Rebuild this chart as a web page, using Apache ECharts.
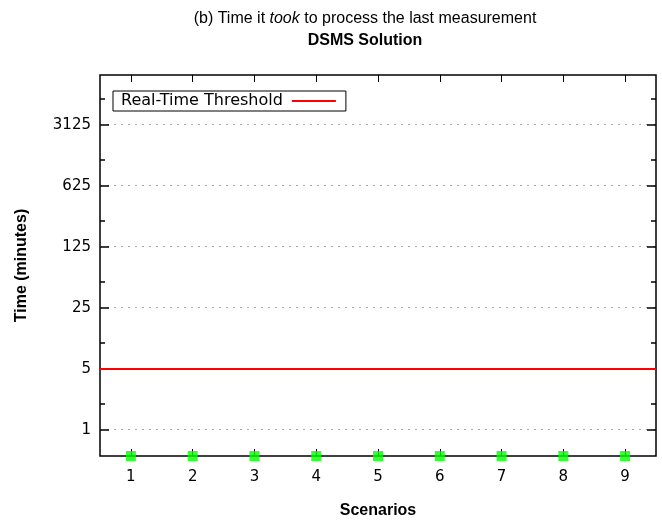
<!DOCTYPE html>
<html>
<head>
<meta charset="utf-8">
<script src="https://cdn.jsdelivr.net/npm/echarts@6/dist/echarts.min.js"></script>
<style>html,body{margin:0;padding:0;background:#fff}#c{width:662px;height:524px}</style>
</head>
<body>
<div id="c"></div>
<script>
const scenarios = ['1','2','3','4','5','6','7','8','9'];
const dsmsTime = [0.5,0.5,0.5,0.5,0.5,0.5,0.5,0.5,0.5];
const thresholdValue = 5;
const yMajorTicks = [1,5,25,125,625,3125];
const yMinorTicks = [2,10,50,250,1250,6250];
const yMin = 0.5, yMax = 11600;

const chart = echarts.init(document.getElementById('c'), null, {renderer:'canvas'});
const labelFont = {fontFamily:'DejaVu Sans', fontSize:15, color:'#000'};
function yAx(pos, ticks, len, showLabel, split){
  return {
    type:'log', logBase:5, min:yMin, max:yMax, position:pos,
    axisLine:{show:false},
    axisTick:{show:true, inside:true, length:len, customValues:ticks, lineStyle:{color:'#000', width:1.5}},
    axisLabel:Object.assign({show:showLabel, customValues:ticks, margin:9, formatter:function(v){return String(v);}}, labelFont),
    splitLine:{show:split, lineStyle:{color:'#aaa', type:[2,5], width:1}},
    minorTick:{show:false}
  };
}
const option = {
  animation:false,
  backgroundColor:'#fff',
  title:{
    text:'{a|(b) Time it }{i|took}{a| to process the last measurement}\n{b|DSMS Solution}',
    left:360, top:3, textAlign:'center',
    textStyle:{
      fontWeight:'normal',
      rich:{
        a:{fontFamily:'Liberation Sans', fontSize:16, fontWeight:'normal', color:'#000', lineHeight:22},
        i:{fontFamily:'Liberation Sans', fontSize:16, fontStyle:'italic', fontWeight:'normal', color:'#000', lineHeight:22},
        b:{fontFamily:'Liberation Sans', fontSize:16, fontWeight:'bold', color:'#000', lineHeight:22}
      }
    }
  },
  legend:{
    show:true, left:113, top:91, orient:'vertical', align:'right',
    data:[{name:'Real-Time Threshold', icon:'rect'}],
    itemWidth:44, itemHeight:2, itemGap:0,
    padding:[2,10,2,8],
    borderColor:'#000', borderWidth:1, borderRadius:0,
    backgroundColor:'#fff',
    textStyle:{fontFamily:'DejaVu Sans', fontSize:16, color:'#000', padding:[0,4,0,0]}
  },
  grid:{left:100, right:6, top:75, bottom:66, show:true, borderColor:'#000', borderWidth:1.5, backgroundColor:'transparent'},
  xAxis:[
    {type:'category', data:scenarios, position:'bottom', boundaryGap:true,
     axisLine:{show:false},
     axisTick:{show:true, inside:true, alignWithLabel:true, length:7, lineStyle:{color:'#000', width:1}},
     axisLabel:Object.assign({margin:14}, labelFont),
     name:'Scenarios', nameLocation:'middle', nameGap:47,
     nameTextStyle:{fontFamily:'Liberation Sans', fontSize:16, fontWeight:'bold', color:'#000'}},
    {type:'category', data:scenarios, position:'top', boundaryGap:true,
     axisLine:{show:false},
     axisTick:{show:true, inside:true, alignWithLabel:true, length:7, lineStyle:{color:'#000', width:1}},
     axisLabel:{show:false}}
  ],
  yAxis:[
    Object.assign(yAx('left', yMajorTicks, 9, true, true), {
      name:'Time (minutes)', nameLocation:'middle', nameGap:70,
      nameTextStyle:{fontFamily:'Liberation Sans', fontSize:16, fontWeight:'bold', color:'#000'}}),
    yAx('left', yMinorTicks, 5, false, false),
    yAx('right', yMajorTicks, 9, false, false),
    yAx('right', yMinorTicks, 5, false, false)
  ],
  series:[
    {name:'Real-Time Threshold', type:'line', data:[], xAxisIndex:0, yAxisIndex:0,
     itemStyle:{color:'#ff0000'}, lineStyle:{color:'#ff0000', width:2}, symbol:'none',
     markLine:{silent:true, symbol:['none','none'], label:{show:false},
       lineStyle:{color:'#ff0000', width:2, type:'solid'},
       data:[{yAxis:thresholdValue}]}},
    {name:'DSMS Solution', type:'scatter', data:dsmsTime, xAxisIndex:0, yAxisIndex:0,
     symbol:'rect', symbolSize:10, itemStyle:{color:'#00ff00'}, clip:false, z:5}
  ]
};
chart.setOption(option);
</script>
</body>
</html>
